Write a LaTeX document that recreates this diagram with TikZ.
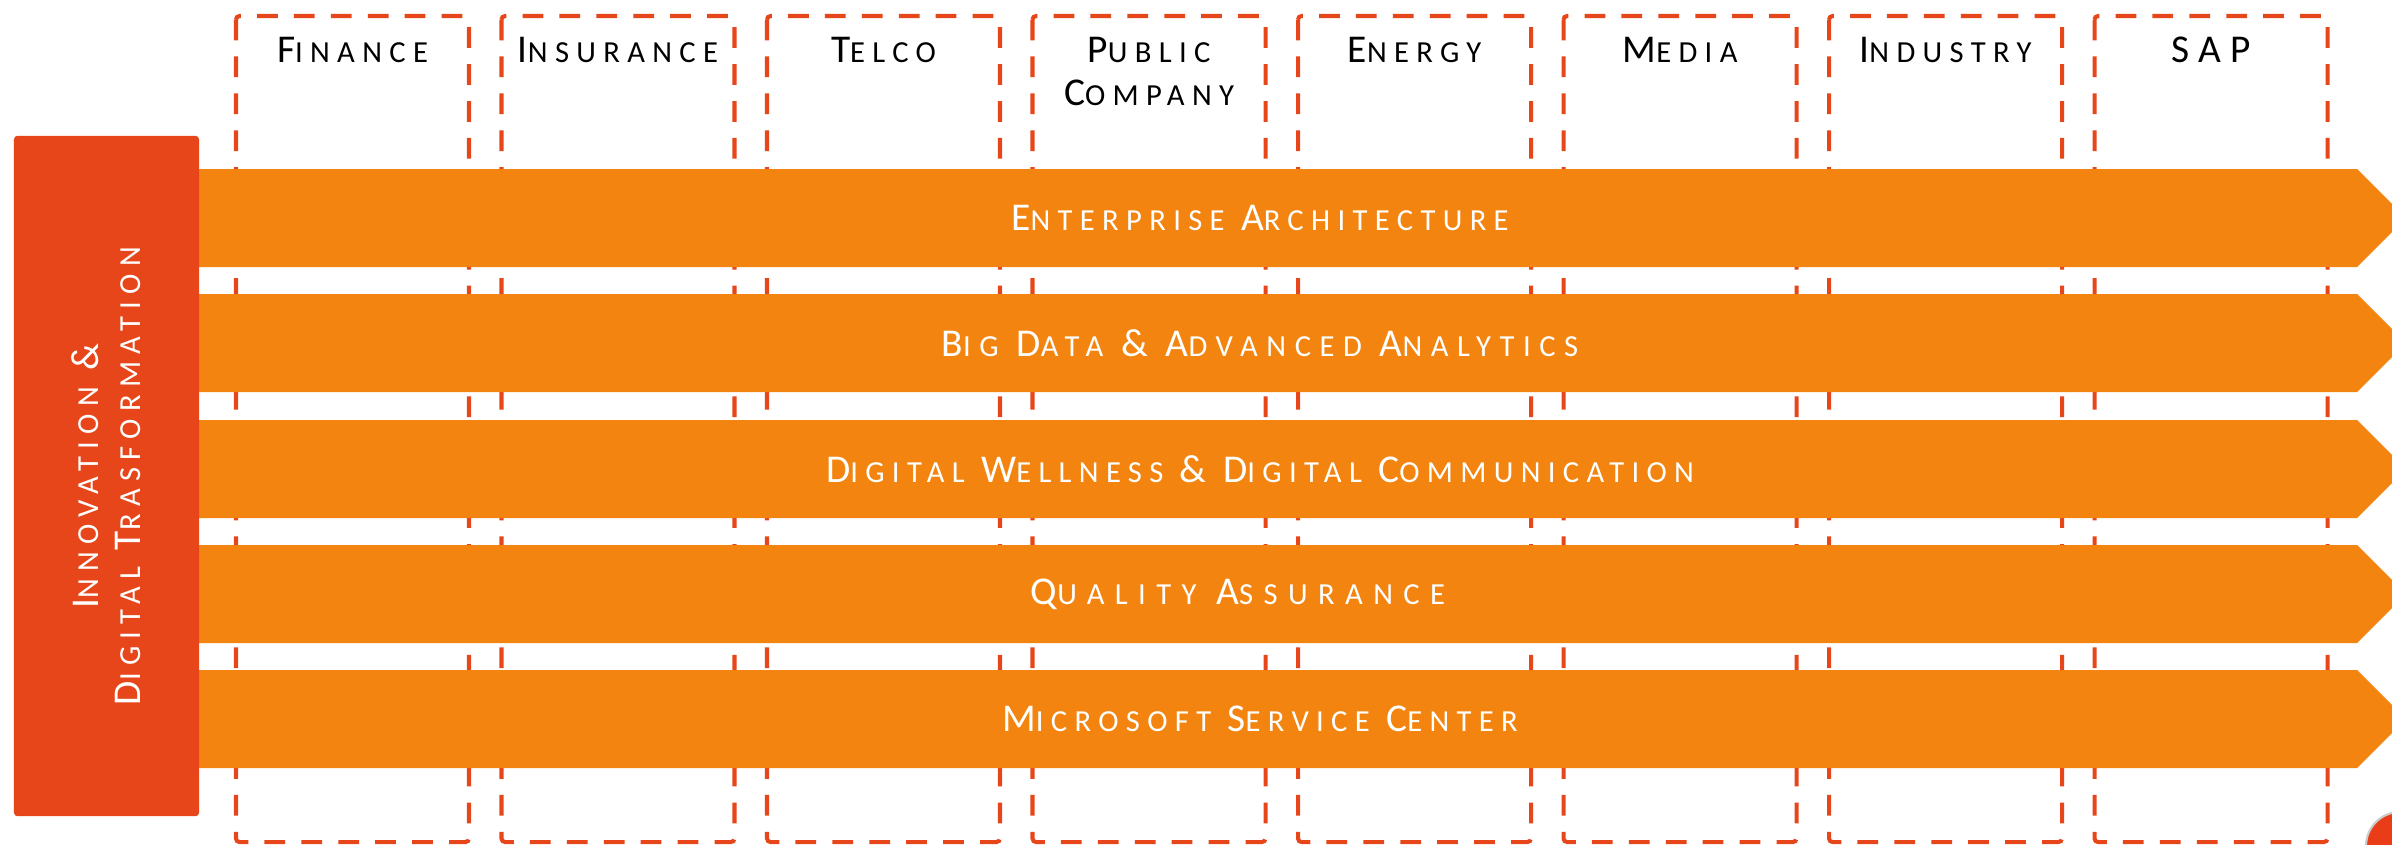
\documentclass[tikz,border=0pt]{standalone}
\usepackage{fontspec}
\setmainfont{Carlito}
\definecolor{brick}{HTML}{E6461A}
\definecolor{amber}{HTML}{F2840F}
\newcommand\scw[2]{{\fontsize{11.2}{12.8}\selectfont #1}{\fontsize{8.7}{12.8}\selectfont #2}}
\tikzset{
  colbox/.style={draw=brick,line width=1.15pt,dash pattern=on 5.9pt off 4.6pt,rounded corners=1pt},
  head/.style={inner sep=0pt,align=center,font=\addfontfeature{LetterSpace=24}},
  bar/.style={fill=amber},
  bartext/.style={inner sep=0pt,text=white,font=\addfontfeature{LetterSpace=#1}},
  bartext/.default=24,
  sidebox/.style={fill=brick,rotate=90,minimum width=6.8cm,minimum height=1.85cm,
    rounded corners=1pt,inner sep=0pt,text=white,align=center,font=\addfontfeature{LetterSpace=24}}
}

\begin{document}
\begin{tikzpicture}[x=0.01cm,y=-0.01cm]
\useasboundingbox (0,0) rectangle (2392,844);
\clip (0,0) rectangle (2392,844);
% sectors
\draw[colbox] (236,16) rectangle +(233,826);
\node[head] (fin) at (352.5,49.5) {\scw{F}{INANCE}};
\draw[colbox] (501.5,16) rectangle +(233,826);
\node[head] (ins) at (618,49.5) {\scw{I}{NSURANCE}};
\draw[colbox] (767,16) rectangle +(233,826);
\node[head] (tel) at (883.5,49.5) {\scw{T}{ELCO}};
\draw[colbox] (1032.5,16) rectangle +(233,826);
\node[head] (pub) at (1149,71.5) {\scw{P}{UBLIC}\\\scw{C}{OMPANY}};
\draw[colbox] (1298,16) rectangle +(233,826);
\node[head] (ene) at (1414.5,49.5) {\scw{E}{NERGY}};
\draw[colbox] (1563.5,16) rectangle +(233,826);
\node[head] (med) at (1680,49.5) {\scw{M}{EDIA}};
\draw[colbox] (1829,16) rectangle +(233,826);
\node[head] (ind) at (1945.5,49.5) {\scw{I}{NDUSTRY}};
\draw[colbox] (2094.5,16) rectangle +(233,826);
\node[head] (sap) at (2211,49.5) {\scw{SAP}{}};
% competence bars
\fill[bar] (150,169) -- (2357,169) -- (2406,218) -- (2357,267) -- (150,267) -- cycle;
\node[bartext] (ea) at (1260,218) {\scw{E}{NTERPRISE} \scw{A}{RCHITECTURE}};
\fill[bar] (150,294) -- (2357,294) -- (2406,343) -- (2357,392) -- (150,392) -- cycle;
\node[bartext=28] (bd) at (1260,343) {\scw{B}{IG} \scw{D}{ATA} \scw{\&}{} \scw{A}{DVANCED} \scw{A}{NALYTICS}};
\fill[bar] (150,420) -- (2357,420) -- (2406,469) -- (2357,518) -- (150,518) -- cycle;
\node[bartext] (dw) at (1260,469) {\scw{D}{IGITAL} \scw{W}{ELLNESS} \scw{\&}{} \scw{D}{IGITAL} \scw{C}{OMMUNICATION}};
\fill[bar] (150,545) -- (2357,545) -- (2406,594) -- (2357,643) -- (150,643) -- cycle;
\node[bartext=34] (qa) at (1238,594) {\scw{Q}{UALITY} \scw{A}{SSURANCE}};
\fill[bar] (150,670) -- (2357,670) -- (2406,719) -- (2357,768) -- (150,768) -- cycle;
\node[bartext] (ms) at (1260,719) {\scw{M}{ICROSOFT} \scw{S}{ERVICE} \scw{C}{ENTER}};
% side label
\node[sidebox] (idt) at (106.5,476) {\scw{I}{NNOVATION} \scw{\&}{}\\\scw{D}{IGITAL} \scw{T}{RASFORMATION}};
% corner badge
\filldraw[fill=brick!85!red,draw=gray!40,line width=0.6pt] (2400,846) circle[radius=0.34cm];
\end{tikzpicture}
\end{document}
